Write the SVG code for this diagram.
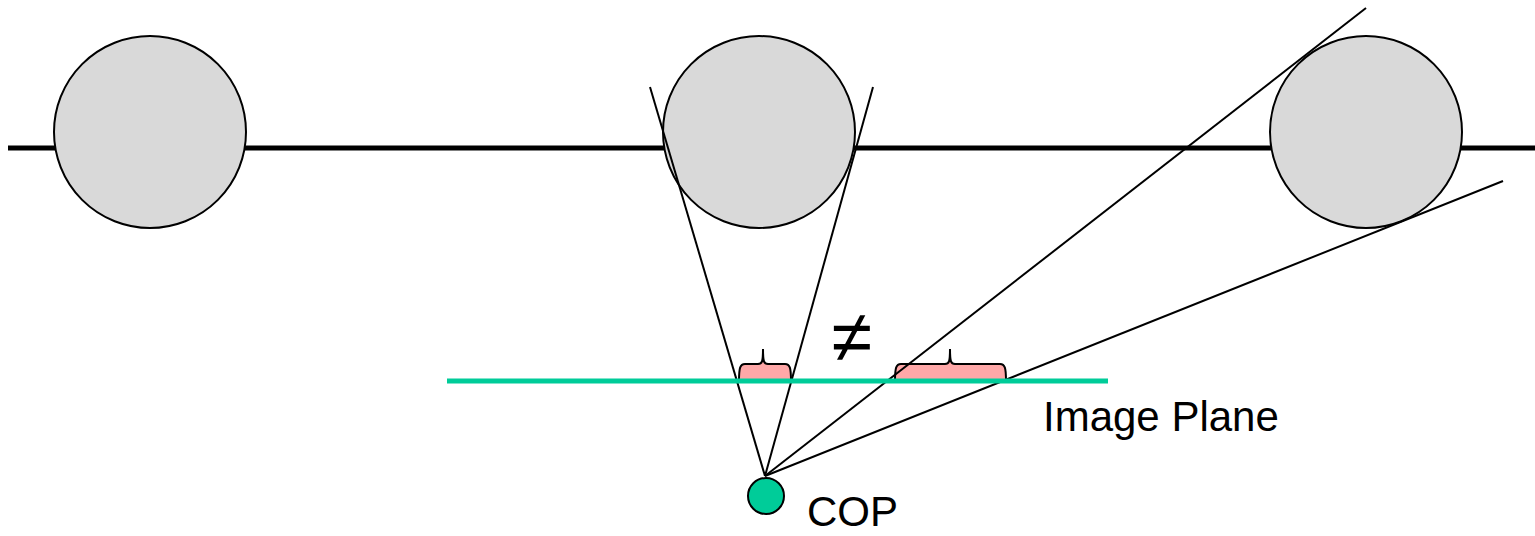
<svg xmlns="http://www.w3.org/2000/svg" width="1535" height="536" viewBox="0 0 1535 536">
<style>
.ball{fill:#d9d9d9;stroke:#000;stroke-width:2}
.ray{stroke:#000;stroke-width:2;fill:none}
.brace{fill:#ffa8a8;stroke:#000;stroke-width:2}
.lbl{font-family:"Liberation Sans",Arial,sans-serif;font-size:42px;fill:#000}
</style>
<rect width="1535" height="536" fill="#fff"/>
<line x1="8" y1="148" x2="1535" y2="148" stroke="#000" stroke-width="5"/>
<g id="ball-left"><circle class="ball" cx="150" cy="132" r="96"/></g>
<g id="ball-middle"><circle class="ball" cx="759" cy="132" r="96"/></g>
<g id="ball-right"><circle class="ball" cx="1366" cy="132" r="96"/></g>
<g id="braces">
<path class="brace" d="M739,381 C739,368 740,364 745,364 L758,364 C762,364 763,362 763,349 C763,362 764,364 768,364 L785,364 C790,364 791,368 791,381 Z"/>
<path class="brace" d="M895,381 C895,368 896,364 901,364 L945,364 C949,364 950,362 950,349 C950,362 951,364 955,364 L1000,364 C1005,364 1006,368 1006,381 Z"/>
</g>
<g id="connectors">
<line class="ray" x1="765" y1="476" x2="650" y2="87"/>
<line class="ray" x1="765" y1="476" x2="873" y2="87"/>
<line class="ray" x1="765" y1="476" x2="1366" y2="8"/>
<line class="ray" x1="765" y1="476" x2="1503" y2="181"/>
</g>
<g id="image-plane">
<line x1="447" y1="381" x2="1108" y2="381" stroke="#00cc99" stroke-width="5"/>
<text class="lbl" x="1043" y="431">Image Plane</text>
</g>
<g id="cop">
<circle cx="766" cy="496" r="18" fill="#00cc99" stroke="#000" stroke-width="2"/>
<text class="lbl" x="807" y="526">COP</text>
</g>
<text class="lbl" x="852" y="362" text-anchor="middle" style="font-size:74px">≠</text>
</svg>
